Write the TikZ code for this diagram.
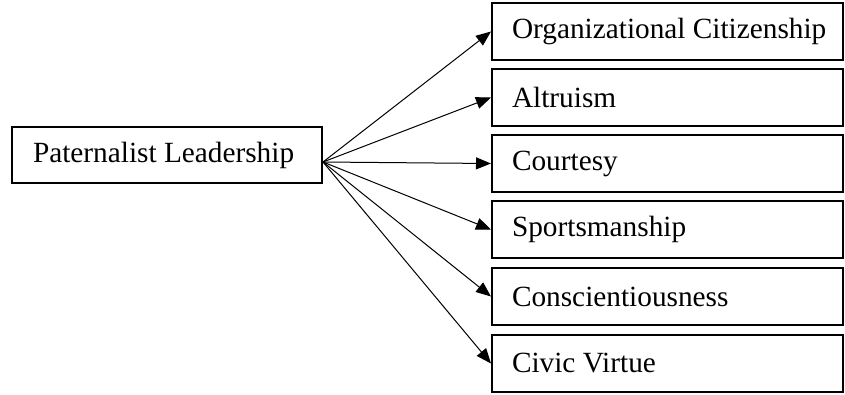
\documentclass[tikz,border=0pt]{standalone}
\usepackage{fontspec}
\setmainfont{Liberation Serif}
\usetikzlibrary{arrows.meta}
\begin{document}
\begin{tikzpicture}[x=1pt,y=-1pt,
  box/.style={draw, line width=2pt, rectangle, minimum height=57pt,
    inner xsep=0pt, inner ysep=0pt, font=\fontsize{29.3}{34}\selectfont},
  outcome/.style={box, anchor=west},
  link/.style={line width=1pt, -{Triangle[length=15pt,width=12pt]}}]
  \useasboundingbox[fill=white] (0,0) rectangle (845,394);

  % source construct
  \node[box, minimum height=56pt] (pl) at (167,155)
    {\makebox[310pt][l]{\hspace*{21pt}Paternalist Leadership}};
  \coordinate (src) at (323,162);

  % outcome dimensions
  \node[outcome] (oc) at (491,31.5)  {\makebox[351pt][l]{\hspace*{20pt}Organizational Citizenship}};
  \node[outcome] (al) at (491,97.5)  {\makebox[351pt][l]{\hspace*{20pt}Altruism}};
  \node[outcome] (co) at (491,163.5) {\makebox[351pt][l]{\hspace*{20pt}Courtesy}};
  \node[outcome] (sp) at (491,229.5) {\makebox[351pt][l]{\hspace*{20pt}Sportsmanship}};
  \node[outcome] (cs) at (491,296.5) {\makebox[351pt][l]{\hspace*{20pt}Conscientiousness}};
  \node[outcome] (cv) at (491,363.5) {\makebox[351pt][l]{\hspace*{20pt}Civic Virtue}};

  % paths
  \foreach \t in {oc,al,co,sp,cs,cv}
    \draw[link] (src) -- (\t.west);
\end{tikzpicture}
\end{document}
